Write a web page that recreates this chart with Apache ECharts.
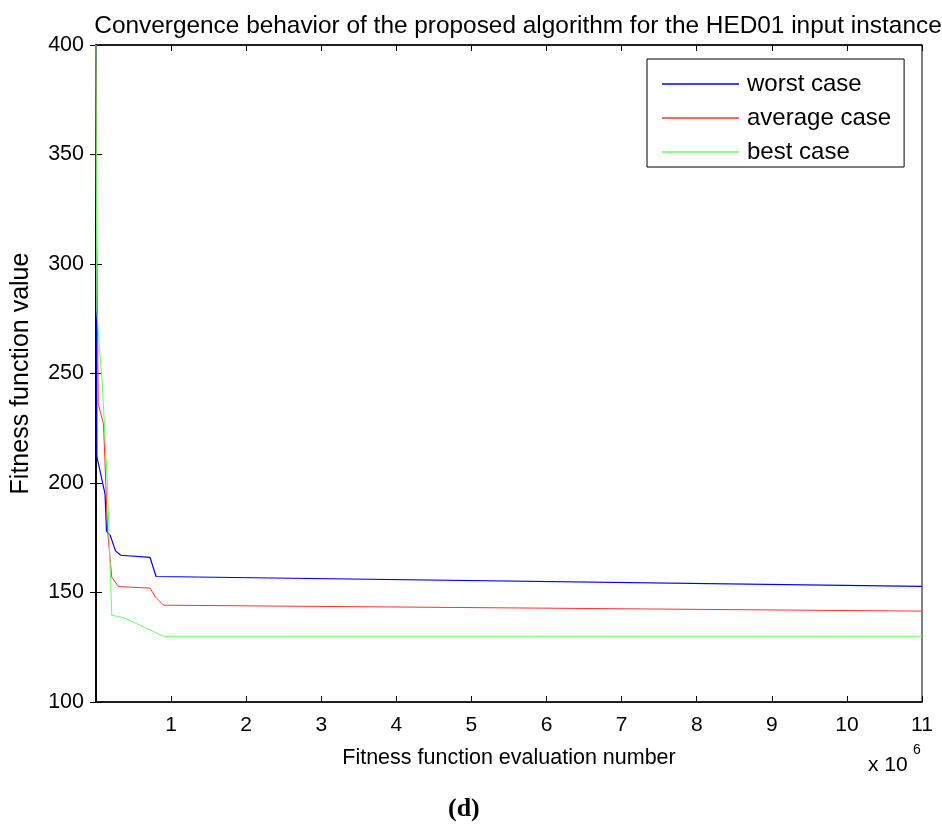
<!DOCTYPE html>
<html>
<head>
<meta charset="utf-8">
<script src="https://cdn.jsdelivr.net/npm/echarts@6/dist/echarts.min.js"></script>
<style>
  html, body { margin: 0; padding: 0; background: #fff; }
  #main { width: 942px; height: 829px; }
</style>
</head>
<body>
<div id="main"></div>
<script>
  // x values in units of 1e6 evaluations, y = fitness value
  var worstCase = [
    [0, 400], [0.012, 212], [0.12, 195], [0.14, 178], [0.19, 176],
    [0.26, 169], [0.33, 167], [0.72, 166], [0.8, 157.3], [11, 152.8]
  ];
  var averageCase = [
    [0, 400], [0.005, 330], [0.03, 236], [0.1, 227], [0.155, 178],
    [0.21, 157], [0.3, 152.7], [0.72, 152], [0.79, 148], [0.9, 144.2], [11, 141.5]
  ];
  var bestCase = [
    [0, 400], [0.008, 400], [0.01, 279], [0.07, 251], [0.08, 248],
    [0.15, 201], [0.21, 139.7], [0.39, 138.2], [0.9, 130], [11, 130]
  ];
  var seriesNames = ['worst case', 'average case', 'best case'];
  var xTicks = [1, 2, 3, 4, 5, 6, 7, 8, 9, 10, 11];

  var font = 'Liberation Sans, Arial, sans-serif';
  var myChart = echarts.init(document.getElementById('main'));

  var tickStyle = { show: true, inside: true, length: 6, lineStyle: { color: '#000', width: 1 } };

  var option = {
    animation: false,
    backgroundColor: '#fff',
    title: {
      text: 'Convergence behavior of the proposed algorithm for the HED01 input instance',
      left: 513,
      textAlign: 'center',
      top: 9,
      textStyle: { fontFamily: font, fontSize: 24.4, fontWeight: 'normal', color: '#000' }
    },
    grid: { left: 96, right: 20, top: 45, bottom: 127, show: true, borderColor: '#000', borderWidth: 1 },
    legend: {
      orient: 'vertical',
      left: 647,
      top: 59,
      data: seriesNames.map(function (n) { return { name: n, icon: 'rect' }; }),
      itemWidth: 77,
      itemHeight: 1.5,
      itemGap: 10,
      padding: [13, 13, 3, 15],
      borderColor: '#000',
      borderWidth: 1,
      backgroundColor: '#fff',
      textStyle: { fontFamily: font, fontSize: 24, color: '#000', lineHeight: 24, padding: [0, 0, 0, 3] }
    },
    xAxis: [{
      type: 'value',
      min: 0,
      max: 11,
      interval: 1,
      name: 'Fitness function evaluation number',
      nameLocation: 'middle',
      nameGap: 45,
      nameTextStyle: { fontFamily: font, fontSize: 21.5, color: '#000' },
      axisLine: { show: true, lineStyle: { color: '#000', width: 1.5 } },
      axisTick: tickStyle,
      splitLine: { show: false },
      axisLabel: {
        fontFamily: font, fontSize: 21, color: '#000', margin: 13,
        formatter: function (v) { return xTicks.indexOf(v) >= 0 ? String(v) : ''; }
      }
    }, {
      type: 'value',
      position: 'top',
      min: 0,
      max: 11,
      interval: 1,
      axisLine: { show: true, lineStyle: { color: '#000', width: 1.5 } },
      axisTick: tickStyle,
      axisLabel: { show: false },
      splitLine: { show: false }
    }],
    yAxis: [{
      type: 'value',
      min: 100,
      max: 400,
      interval: 50,
      name: 'Fitness function value',
      nameLocation: 'middle',
      nameGap: 62,
      nameTextStyle: { fontFamily: font, fontSize: 25, color: '#000' },
      axisLine: { show: true, lineStyle: { color: '#000', width: 1.5 } },
      axisTick: tickStyle,
      splitLine: { show: false },
      axisLabel: { fontFamily: font, fontSize: 21.5, color: '#000', margin: 12 }
    }, {
      type: 'value',
      position: 'right',
      min: 100,
      max: 400,
      interval: 50,
      axisLine: { show: true, lineStyle: { color: '#000', width: 1.5 } },
      axisTick: tickStyle,
      axisLabel: { show: false },
      splitLine: { show: false }
    }],
    series: [
      { name: seriesNames[0], type: 'line', data: worstCase, symbol: 'none',
        lineStyle: { color: '#0000ff', width: 1.2 }, itemStyle: { color: '#0000ff' } },
      { name: seriesNames[1], type: 'line', data: averageCase, symbol: 'none',
        lineStyle: { color: '#ff3030', width: 1 }, itemStyle: { color: '#ff3030' } },
      { name: seriesNames[2], type: 'line', data: bestCase, symbol: 'none',
        lineStyle: { color: '#66ff66', width: 1 }, itemStyle: { color: '#66ff66' } }
    ],
    graphic: [
      { type: 'text', left: 868, top: 755,
        style: { text: 'x 10', fontFamily: font, fontSize: 21, fill: '#000' } },
      { type: 'text', left: 913, top: 743,
        style: { text: '6', fontFamily: font, fontSize: 14, fill: '#000' } },
      { type: 'text', left: 448, top: 796,
        style: { text: '(d)', fontFamily: 'Liberation Serif, Times New Roman, serif', fontSize: 26, fontWeight: 'bold', fill: '#000' } }
    ]
  };

  myChart.setOption(option);
</script>
</body>
</html>
